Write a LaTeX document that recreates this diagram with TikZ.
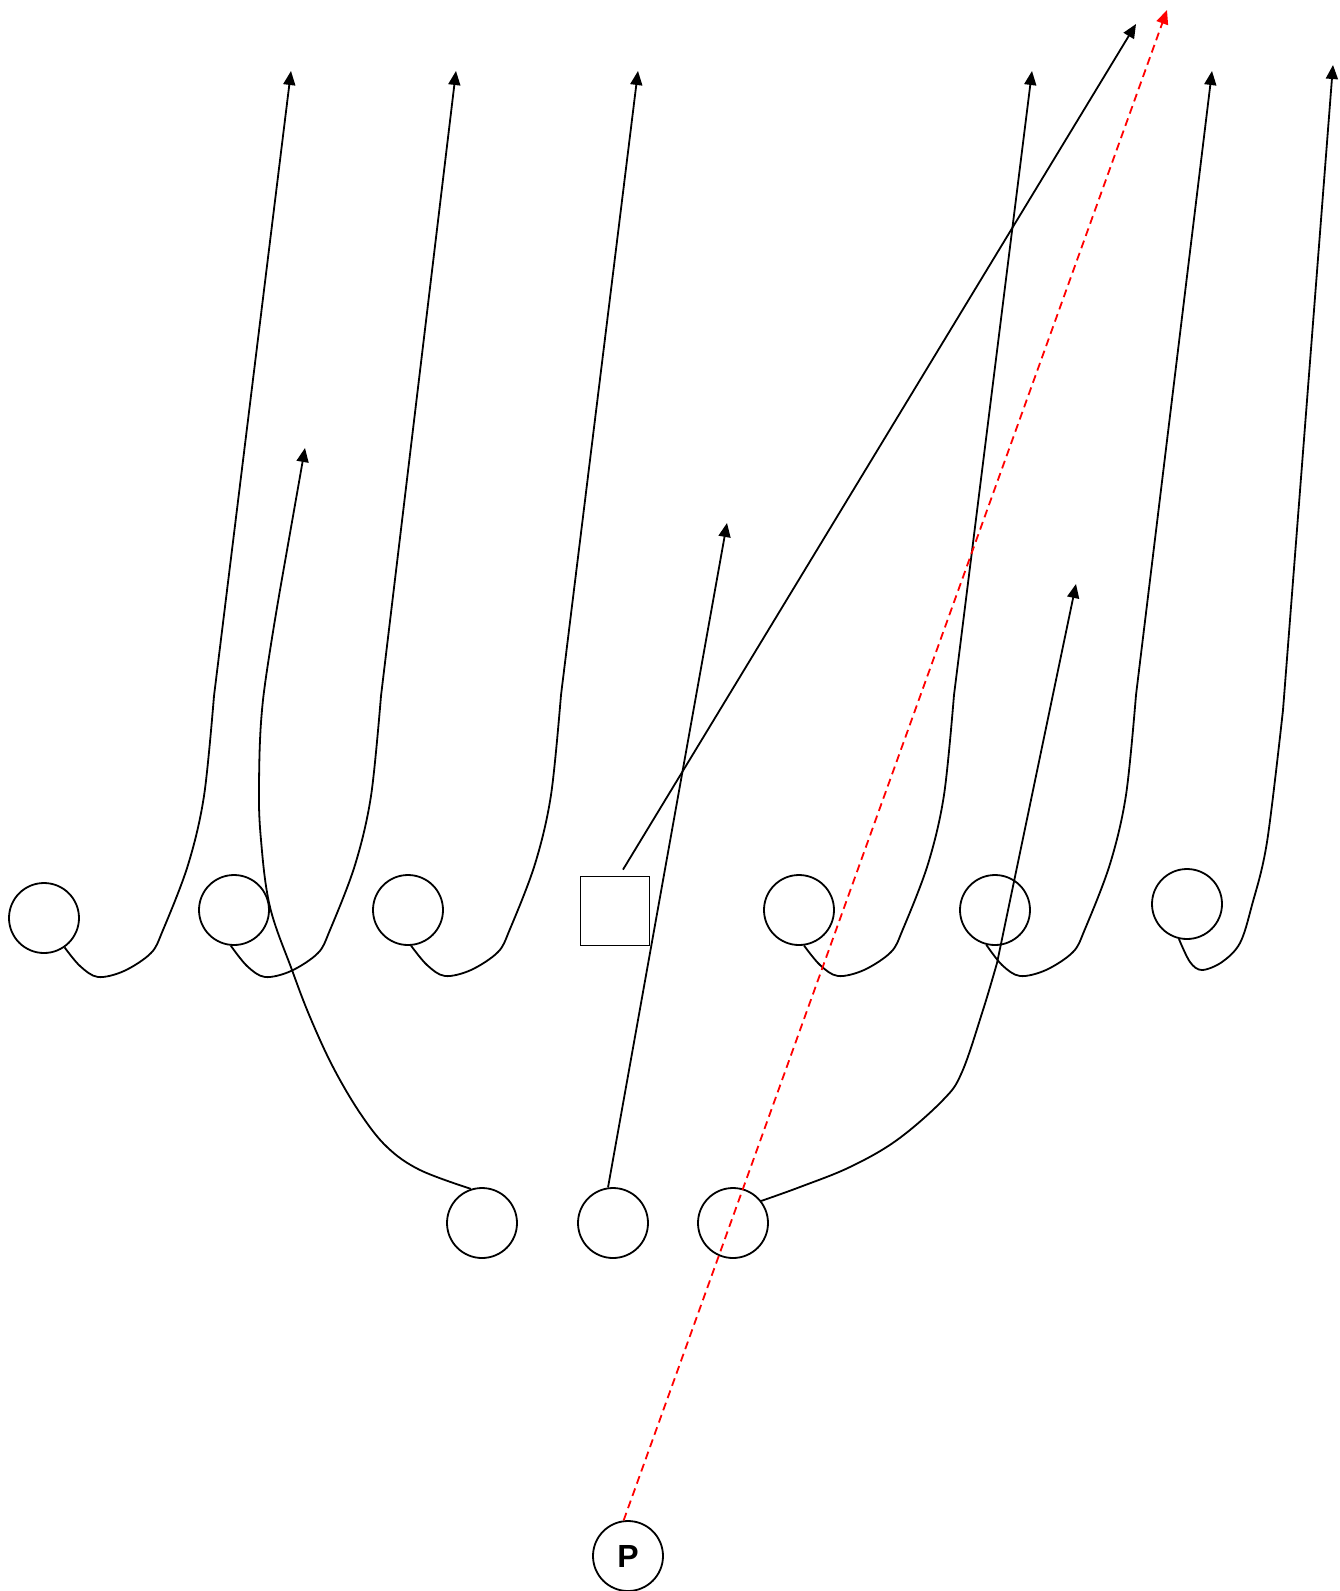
\documentclass[tikz,border=0pt]{standalone}
\usepackage{fontspec}
\setmainfont{Liberation Sans}
\usetikzlibrary{arrows.meta}

\tikzset{
  player/.style={draw, circle, line width=1.8pt, minimum size=70pt, inner sep=0pt},
  snapper/.style={draw, rectangle, line width=1.8pt, minimum size=69pt, inner sep=0pt},
  route/.style={line width=1.8pt, -{Triangle[length=14pt,width=12pt]}},
  kick/.style={red, line width=1.8pt, dash pattern=on 8pt off 5pt, -{Triangle[length=14pt,width=12pt]}}
}

\begin{document}
\begin{tikzpicture}[x=1pt,y=-1pt]
    \useasboundingbox (0,0) rectangle (1340,1591);

    % line
    \node[player] (l1) at (44,918) {};
    \node[player] (l2) at (234,910) {};
    \node[player] (l3) at (408,910) {};
    \node[snapper] (ctr) at (615,911) {};
    \node[player] (r1) at (799,910) {};
    \node[player] (r2) at (995,910) {};
    \node[player] (r3) at (1187,904) {};
    % backs
    \node[player] (b1) at (482,1223) {};
    \node[player] (b2) at (613,1223) {};
    \node[player] (b3) at (733,1223) {};
    \node[player, font=\bfseries\fontsize{32}{38}\selectfont] (p) at (628,1556) {P};

    % route ends
    \coordinate (t1) at (291,71);
    \coordinate (t2) at (456,71);
    \coordinate (t3) at (638,71);
    \coordinate (t5) at (1032,71);
    \coordinate (t6) at (1212,71);
    \coordinate (t7) at (1333,65);
    \coordinate (tc) at (1136,24);
    \coordinate (tb1) at (305,448);
    \coordinate (tb2) at (727,523);
    \coordinate (tb3) at (1076,584);
    \coordinate (ball) at (1167,10);

    % releases off the line
    \draw[route] plot[smooth, tension=.55] coordinates {(l1.-55) (80,966) (98,977) (124,971) (151,953) (163,930) (188,865) (204,796) (214,696)} -- (t1);
    \draw[route] plot[smooth, tension=.55] coordinates {(l2.-95) (247,966) (265,977) (291,971) (318,953) (330,930) (355,865) (371,796) (381,696)} -- (t2);
    \draw[route] plot[smooth, tension=.55] coordinates {(l3.-85) (427,965) (445,976) (471,970) (498,952) (510,929) (535,864) (551,795) (561,695)} -- (t3);
    \draw[route] plot[smooth, tension=.55] coordinates {(r1.-82) (820,965) (838,976) (864,970) (891,952) (903,929) (928,864) (944,795) (954,695)} -- (t5);
    \draw[route] plot[smooth, tension=.55] coordinates {(r2.-104) (1002,965) (1020,976) (1046,970) (1073,952) (1085,929) (1110,864) (1126,795) (1136,695)} -- (t6);
    \draw[route] plot[smooth, tension=.55] coordinates {(r3.-103) (1190,962) (1202,970) (1222,962) (1240,943) (1252,905) (1267,842) (1283,710)} -- (t7);
    \draw[route] ([xshift=8pt,yshift=6pt]ctr.north) -- (tc);

    % backs
    \draw[route] plot[smooth, tension=.6] coordinates {(b1.108) (420,1170) (387,1147) (360,1113) (333,1067) (310,1017) (292,970) (270,907) (261,840) (259,783) (263,700) (280,590)} -- (tb1);
    \draw[route] (b2.98) -- (tb2);
    \draw[route] plot[smooth, tension=.6] coordinates {(b3.38) (800,1187) (850,1167) (897,1140) (943,1100) (962,1072) (983,1010) (997,963)} -- (tb3);

    % kick
    \draw[kick] (p.97) -- (ball);
\end{tikzpicture}
\end{document}
